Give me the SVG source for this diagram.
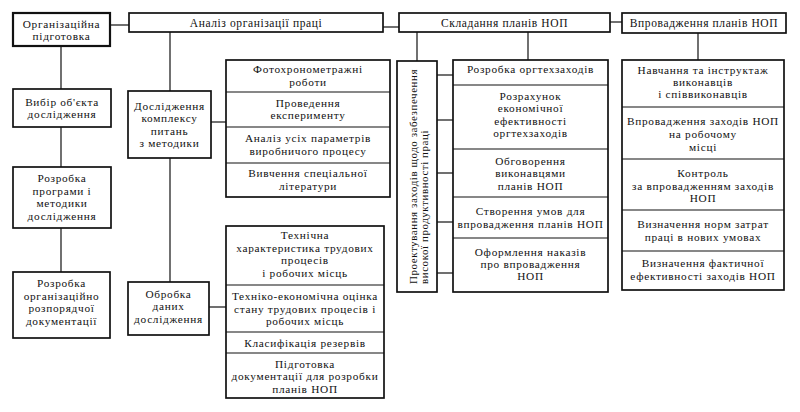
<svg xmlns="http://www.w3.org/2000/svg" width="800" height="412" viewBox="0 0 800 412">
<style>
  .box{fill:#fff;stroke:#111;stroke-width:1.7}
  .bold{stroke-width:2.2}
  .ln{fill:none;stroke:#111;stroke-width:1.2}
  text{font-family:"Liberation Serif","Times New Roman",serif;font-size:11.3px;fill:#111;text-anchor:middle;letter-spacing:0.7px}
  .t{font-size:11.5px;letter-spacing:0.6px}
  .v{text-anchor:start;font-size:11px;letter-spacing:0.55px}
</style>
<rect width="800" height="412" fill="#fff"/>
<g id="connectors">
  <line class="ln" x1="110" y1="25" x2="129" y2="25"/>
  <line class="ln" x1="383" y1="27" x2="399" y2="27"/>
  <line class="ln" x1="610" y1="22" x2="622" y2="22"/>
  <line class="ln" x1="61" y1="46" x2="61" y2="89"/>
  <line class="ln" x1="61" y1="127" x2="61" y2="167"/>
  <line class="ln" x1="61" y1="228" x2="61" y2="272"/>
  <line class="ln" x1="170" y1="32" x2="170" y2="91"/>
  <line class="ln" x1="170" y1="158" x2="170" y2="282"/>
  <line class="ln" x1="211" y1="122" x2="226" y2="122"/>
  <line class="ln" x1="209" y1="307" x2="226" y2="307"/>
  <line class="ln" x1="417" y1="32" x2="417" y2="61"/>
  <line class="ln" x1="528" y1="32" x2="528" y2="60"/>
  <line class="ln" x1="698" y1="33" x2="698" y2="60"/>
  <line class="ln" x1="437" y1="75" x2="453" y2="75"/>
  <line class="ln" x1="437" y1="120" x2="453" y2="120"/>
  <line class="ln" x1="437" y1="173" x2="453" y2="173"/>
  <line class="ln" x1="437" y1="222" x2="453" y2="222"/>
  <line class="ln" x1="437" y1="273" x2="453" y2="273"/>
</g>
<g id="org-pidgotovka">
  <rect class="box bold" x="13" y="13" width="97" height="33"/>
  <text x="61.5" y="27.5">Організаційна</text>
  <text x="61.5" y="40">підготовка</text>
</g>
<g id="analiz">
  <rect class="box" x="129" y="13" width="254" height="19"/>
  <text class="t" x="256" y="26.5">Аналіз організації праці</text>
</g>
<g id="skladannya">
  <rect class="box" x="399" y="13" width="211" height="19"/>
  <text class="t" x="504.5" y="26.5">Складання планів НОП</text>
</g>
<g id="vprovadzhennya">
  <rect class="box" x="622" y="13" width="164" height="20"/>
  <text class="t" x="704" y="27">Впровадження планів НОП</text>
</g>
<g id="vybir">
  <rect class="box" x="13" y="89" width="98" height="38"/>
  <text x="62" y="105.5">Вибір об'єкта</text>
  <text x="62" y="118">дослідження</text>
</g>
<g id="rozrobka-prohramy">
  <rect class="box" x="13" y="167" width="98" height="61"/>
  <text x="62" y="182">Розробка</text>
  <text x="62" y="194.5">програми і</text>
  <text x="62" y="207">методики</text>
  <text x="62" y="219.5">дослідження</text>
</g>
<g id="rozrobka-dokumentatsii">
  <rect class="box" x="13" y="272" width="97" height="66"/>
  <text x="61.5" y="287">Розробка</text>
  <text x="61.5" y="299.5">організаційно</text>
  <text x="61.5" y="312">розпорядчої</text>
  <text x="61.5" y="324.5">документації</text>
</g>
<g id="doslidzhennya">
  <rect class="box" x="128" y="91" width="83" height="67"/>
  <text x="169.5" y="109.5">Дослідження</text>
  <text x="169.5" y="122">комплексу</text>
  <text x="169.5" y="134.5">питань</text>
  <text x="169.5" y="147">з методики</text>
</g>
<g id="obrobka">
  <rect class="box" x="128" y="282" width="81" height="53"/>
  <text x="168.5" y="297.5">Обробка</text>
  <text x="168.5" y="310">даних</text>
  <text x="168.5" y="322.5">дослідження</text>
</g>
<g id="stack-metody">
  <rect class="box" x="226" y="60" width="164" height="137"/>
  <line class="ln" x1="226" y1="92" x2="390" y2="92"/>
  <line class="ln" x1="226" y1="127" x2="390" y2="127"/>
  <line class="ln" x1="226" y1="163" x2="390" y2="163"/>
  <text x="308" y="73">Фотохронометражні</text>
  <text x="308" y="85.5">роботи</text>
  <text x="308" y="106.5">Проведення</text>
  <text x="308" y="119">експерименту</text>
  <text x="308" y="142">Аналіз усіх параметрів</text>
  <text x="308" y="154.5">виробничого процесу</text>
  <text x="308" y="177">Вивчення спеціальної</text>
  <text x="308" y="189.5">літератури</text>
</g>
<g id="stack-obrobka">
  <rect class="box" x="226" y="226" width="158" height="172"/>
  <line class="ln" x1="226" y1="285" x2="384" y2="285"/>
  <line class="ln" x1="226" y1="332" x2="384" y2="332"/>
  <line class="ln" x1="226" y1="353" x2="384" y2="353"/>
  <text x="305" y="239">Технічна</text>
  <text x="305" y="251.5">характеристика трудових</text>
  <text x="305" y="264">процесів</text>
  <text x="305" y="276.5">і робочих місць</text>
  <text x="305" y="300">Техніко-економічна оцінка</text>
  <text x="305" y="312.5">стану трудових процесів і</text>
  <text x="305" y="325">робочих місць</text>
  <text x="305" y="346.5">Класифікація резервів</text>
  <text x="305" y="367.5">Підготовка</text>
  <text x="305" y="380">документації для розробки</text>
  <text x="305" y="392.5">планів НОП</text>
</g>
<g id="proektuvannya">
  <rect class="box" x="397" y="61" width="40" height="231"/>
  <text class="v" transform="translate(416.5,284) rotate(-90)">Проектування заходів щодо забезпечення</text>
  <text class="v" transform="translate(428,284) rotate(-90)">високої продуктивності праці</text>
</g>
<g id="stack-orgtekh">
  <rect class="box" x="453" y="60" width="155" height="232"/>
  <line class="ln" x1="453" y1="85" x2="608" y2="85"/>
  <line class="ln" x1="453" y1="149" x2="608" y2="149"/>
  <line class="ln" x1="453" y1="197" x2="608" y2="197"/>
  <line class="ln" x1="453" y1="238" x2="608" y2="238"/>
  <text x="530.5" y="73">Розробка оргтехзаходів</text>
  <text x="530.5" y="99.5">Розрахунок</text>
  <text x="530.5" y="112">економічної</text>
  <text x="530.5" y="124.5">ефективності</text>
  <text x="530.5" y="137">оргтехзаходів</text>
  <text x="530.5" y="164.5">Обговорення</text>
  <text x="530.5" y="177">виконавцями</text>
  <text x="530.5" y="189.5">планів НОП</text>
  <text x="530.5" y="215">Створення умов для</text>
  <text x="530.5" y="227.5">впровадження планів НОП</text>
  <text x="530.5" y="255.5">Оформлення наказів</text>
  <text x="530.5" y="267.5">про впровадження</text>
  <text x="530.5" y="279.5">НОП</text>
</g>
<g id="stack-vprovadzhennya">
  <rect class="box" x="622" y="60" width="162" height="230"/>
  <line class="ln" x1="622" y1="107" x2="784" y2="107"/>
  <line class="ln" x1="622" y1="159" x2="784" y2="159"/>
  <line class="ln" x1="622" y1="210" x2="784" y2="210"/>
  <line class="ln" x1="622" y1="251" x2="784" y2="251"/>
  <text x="703" y="73.5">Навчання та інструктаж</text>
  <text x="703" y="85.5">виконавців</text>
  <text x="703" y="97.5">і співвиконавців</text>
  <text x="703" y="125">Впровадження заходів НОП</text>
  <text x="703" y="138">на робочому</text>
  <text x="703" y="151">місці</text>
  <text x="703" y="177">Контроль</text>
  <text x="703" y="189.5">за впровадженням заходів</text>
  <text x="703" y="201.5">НОП</text>
  <text x="703" y="228">Визначення норм затрат</text>
  <text x="703" y="241">праці в нових умовах</text>
  <text x="703" y="266.5">Визначення фактичної</text>
  <text x="703" y="279.5">ефективності заходів НОП</text>
</g>
</svg>
